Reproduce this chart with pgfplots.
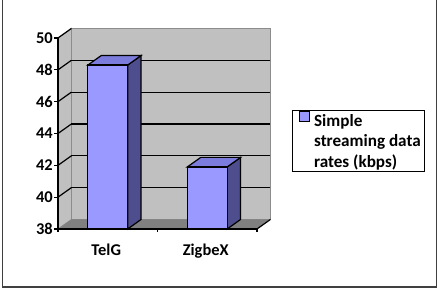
\documentclass[border=0pt]{standalone}
\usepackage{pgfplots}
\pgfplotsset{compat=1.18}
\usepackage{fontspec}
\setmainfont{Carlito}
\definecolor{barfront}{HTML}{9999FF}
\definecolor{bartop}{HTML}{7C7CDC}
\definecolor{barside}{HTML}{4E4E8E}
\definecolor{wallgray}{HTML}{C0C0C0}
\definecolor{floorgray}{HTML}{808080}
\definecolor{edgegray}{HTML}{8C8C8C}
\begin{document}
\begin{tikzpicture}
\path[use as bounding box] (0,0) rectangle (440bp,290bp);
\draw[line width=1.3bp, color=black!75] (2.5bp,292bp) -- (2.5bp,3bp) -- (436.7bp,3bp) -- (436.7bp,292bp);
\begin{axis}[
  at={(58bp,61bp)}, anchor=south west,
  scale only axis, width=199bp, height=191bp,
  xmin=-0.5, xmax=1.5, ymin=38, ymax=50,
  clip=false, axis on top,
  axis x line*=bottom, axis y line*=left,
  axis line style={line width=1.2bp, -},
  xtick={0,1}, xticklabels={TelG,ZigbeX},
  xtick style={draw=none},
  ytick={38,40,...,50},
  ytick style={line width=1.2bp, black},
  tick align=outside, major tick length=4bp,
  tick label style={font=\fontsize{16.5}{19}\selectfont\bfseries},
  yticklabel style={inner sep=1bp},
  xticklabel style={yshift=-7bp, xshift=-1.5bp},
  /pgf/number format/assume math mode=true,
  unbounded coords=jump,
  legend cell align=left,
  legend style={at={(1.174,0.625)}, anchor=north west, draw=black, line width=1.2bp,
    font=\fontsize{17.2}{20.3}\selectfont\bfseries, cells={align=left}, inner xsep=2bp, inner ysep=1.2bp},
  legend image code/.code={\path (0bp,19bp) (16.7bp,29bp);\draw[fill=barfront, draw=black, line width=0.8bp] (4.3bp,19.8bp) rectangle (14.3bp,29.8bp);},
]
% left wall
\addplot[fill=wallgray, draw=edgegray, line width=0.8bp, forget plot] coordinates {(-0.5,38) (-0.5,50) (-0.365,50.6) (-0.365,38.6)} -- cycle;
% back wall
\addplot[fill=wallgray, draw=edgegray, line width=0.8bp, forget plot] coordinates {(-0.365,38.6) (1.635,38.6) (1.635,50.6) (-0.365,50.6)} -- cycle;
% floor
\addplot[fill=floorgray, draw=none, forget plot] coordinates {(-0.5,38) (1.5,38) (1.635,38.6) (-0.365,38.6)} -- cycle;
% gridlines on back wall
\addplot[black, line width=1.2bp, forget plot] coordinates {(-0.365,40.6) (1.635,40.6) (nan,nan) (-0.365,42.6) (1.635,42.6) (nan,nan) (-0.365,44.6) (1.635,44.6) (nan,nan) (-0.365,46.6) (1.635,46.6) (nan,nan) (-0.365,48.6) (1.635,48.6)};
% gridlines on left wall
\addplot[black, line width=1.2bp, forget plot] coordinates {(-0.5,40) (-0.365,40.6) (nan,nan) (-0.5,42) (-0.365,42.6) (nan,nan) (-0.5,44) (-0.365,44.6) (nan,nan) (-0.5,46) (-0.365,46.6) (nan,nan) (-0.5,48) (-0.365,48.6) (nan,nan) (-0.5,50) (-0.365,50.6)};
% floor right edge
\addplot[black, line width=1.2bp, forget plot] coordinates {(1.5,38) (1.635,38.6)};
% bar sides
\addplot[fill=barside, draw=black, line width=1.2bp, forget plot] coordinates {(0.2,38) (0.335,38.6) (0.335,48.9) (0.2,48.3)} -- cycle;
\addplot[fill=barside, draw=black, line width=1.2bp, forget plot] coordinates {(1.2,38) (1.335,38.6) (1.335,42.5) (1.2,41.9)} -- cycle;
% bar tops
\addplot[fill=bartop, draw=black, line width=1.2bp, forget plot] coordinates {(-0.2,48.3) (0.2,48.3) (0.335,48.9) (-0.065,48.9)} -- cycle;
\addplot[fill=bartop, draw=black, line width=1.2bp, forget plot] coordinates {(0.8,41.9) (1.2,41.9) (1.335,42.5) (0.935,42.5)} -- cycle;
% bar fronts
\addplot[ybar, bar width=0.4, fill=barfront, draw=black, line width=1.2bp] coordinates {(0,48.3) (1,41.9)};
\addlegendentry{Simple\\streaming data\hspace*{-6bp}\\rates (kbps)}
\draw[line width=1.2bp] (axis cs:-0.5,38) -- ([yshift=-3bp]axis cs:-0.5,38);
\draw[line width=1.2bp] (axis cs:0.5,38) -- ([yshift=-3bp]axis cs:0.5,38);
\draw[line width=1.2bp] (axis cs:1.5,38) -- ([yshift=-3bp]axis cs:1.5,38);
\end{axis}
\end{tikzpicture}
\end{document}
